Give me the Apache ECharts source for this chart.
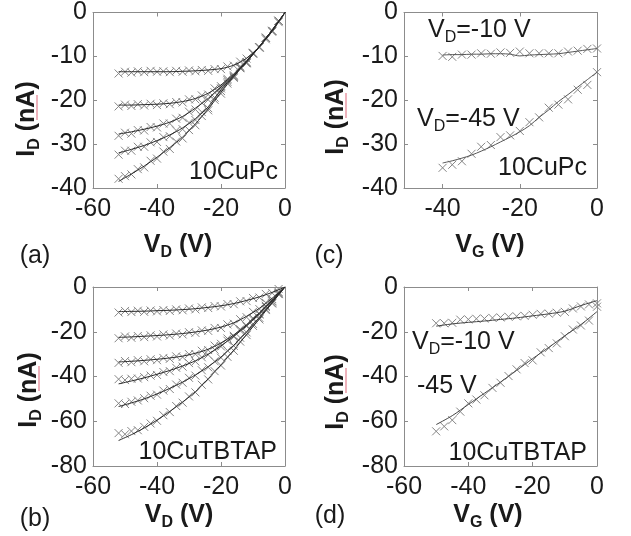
<!DOCTYPE html>
<html><head><meta charset="utf-8">
<script src="https://cdn.jsdelivr.net/npm/echarts@6/dist/echarts.min.js"></script>
<style>html,body{margin:0;padding:0;background:#fff}#c{width:631px;height:536px}</style>
</head><body><div id="c"></div><script>
// ---------- DATA ----------
// Panel (a): 10CuPc output curves, ID vs VD
const xA = [-52,-50,-48,-46,-44,-42,-40,-38,-36,-34,-32,-30,-28,-26,-24,-22,-20,-18,-16,-14,-12,-10,-8,-6,-4,-2,0];
const xAfit = [-52,-48,-44,-40,-36,-32,-28,-24,-20,-16,-12,-8,-4,0];
const a1 = [-13.9,-13.5,-13.7,-13.4,-13.6,-13.3,-13.5,-13.4,-13.6,-13.3,-13.5,-13.2,-13.4,-13.1,-13.3,-12.9,-12.9,-12.3,-12.1,-11.2,-10.5,-9.3,-7.9,-6.1,-4.4,-2.2,0.3];
const a2 = [-21.4,-21.0,-21.3,-20.9,-21.2,-20.8,-21.1,-20.7,-20.9,-20.4,-20.5,-19.8,-19.8,-18.9,-18.7,-17.3,-16.8,-15.1,-14.3,-12.3,-11.3,-9.2,-7.9,-5.8,-4.2,-1.9,0.2];
const a3 = [-28.1,-27.4,-27.6,-26.8,-26.9,-26.1,-26.2,-25.3,-25.3,-24.2,-24.0,-22.6,-22.1,-20.6,-19.9,-18.2,-17.3,-15.4,-14.5,-12.5,-11.4,-9.2,-7.9,-5.8,-4.2,-1.9,0.2];
const a4 = [-32.4,-31.5,-31.5,-30.6,-30.6,-29.6,-29.5,-28.4,-28.2,-26.9,-26.6,-25.1,-24.5,-22.7,-21.8,-19.4,-17.9,-15.8,-14.7,-12.6,-11.5,-9.3,-8.0,-5.8,-4.2,-1.9,0.2];
const a5 = [-37.9,-37.3,-36.9,-35.7,-35.3,-33.8,-33.3,-31.7,-31.1,-29.4,-28.7,-26.8,-25.7,-23.6,-22.3,-19.9,-18.5,-16.2,-14.9,-12.7,-11.6,-9.4,-8.0,-5.7,-4.2,-1.9,0.2];
const a1fit = [-13.5,-13.5,-13.5,-13.5,-13.5,-13.4,-13.3,-13.1,-12.8,-12.0,-10.4,-7.8,-4.3,0];
const a2fit = [-21.1,-21.1,-21.0,-20.9,-20.7,-20.3,-19.6,-18.4,-16.5,-14.0,-11.0,-7.7,-4.0,0];
const a3fit = [-27.7,-27.2,-26.6,-25.9,-25.0,-23.7,-21.8,-19.6,-17.0,-14.2,-11.1,-7.7,-4.0,0];
const a4fit = [-32.0,-31.2,-30.3,-29.2,-27.9,-26.3,-24.2,-21.5,-17.6,-14.4,-11.2,-7.8,-4.0,0];
const a5fit = [-38.5,-36.8,-35.0,-33.0,-30.8,-28.4,-25.4,-22.0,-18.2,-14.6,-11.3,-7.8,-4.0,0];

// Panel (b): 10CuTBTAP output curves
const xB = [-52,-50,-48,-46,-44,-42,-40,-38,-36,-34,-32,-30,-28,-26,-24,-22,-20,-18,-16,-14,-12,-10,-8,-6,-4,-2,0];
const xBfit = [-52,-48,-44,-40,-36,-32,-28,-24,-20,-16,-12,-8,-4,0];
const b1 = [-11.4,-10.7,-11.2,-10.6,-11.1,-10.5,-10.9,-10.3,-10.7,-10.0,-10.4,-9.6,-10.0,-9.1,-9.4,-8.5,-8.7,-7.6,-7.7,-6.4,-6.3,-4.9,-4.7,-3.1,-2.7,-0.9,0.3];
const b2 = [-22.9,-22.1,-22.7,-21.9,-22.4,-21.6,-22.1,-21.2,-21.7,-20.8,-21.2,-20.2,-20.5,-19.4,-19.6,-18.3,-18.3,-16.7,-16.4,-14.4,-13.5,-11.1,-9.9,-7.0,-5.4,-2.2,0.3];
const b3 = [-33.9,-33.1,-33.6,-32.7,-33.2,-32.3,-32.7,-31.7,-32.1,-31.0,-31.3,-30.0,-30.0,-28.5,-28.2,-26.2,-25.4,-23.0,-21.8,-18.9,-17.2,-13.9,-11.9,-8.4,-6.2,-2.6,0.3];
const b4 = [-41.2,-41.6,-41.0,-40.9,-40.3,-39.6,-39.3,-38.0,-37.6,-36.1,-35.6,-34.0,-33.3,-31.4,-30.3,-28.0,-26.6,-24.0,-22.3,-19.5,-17.6,-14.5,-12.3,-8.9,-6.5,-2.9,0.3];
const b5 = [-52.0,-52.3,-51.3,-50.7,-49.7,-48.6,-48.1,-46.3,-45.6,-43.6,-42.8,-40.6,-39.6,-37.2,-35.9,-33.2,-31.6,-28.4,-26.3,-22.7,-20.3,-16.5,-13.8,-9.9,-7.1,-3.1,0.3];
const b6 = [-65.3,-65.8,-64.4,-64.0,-62.5,-61.0,-59.8,-57.3,-55.9,-53.2,-51.7,-48.9,-47.1,-43.7,-41.3,-37.6,-35.1,-31.2,-28.5,-24.4,-21.5,-17.4,-14.5,-10.3,-7.4,-3.2,0.3];
const b1fit = [-11.0,-10.9,-10.8,-10.6,-10.4,-10.1,-9.7,-9.1,-8.4,-7.4,-6.0,-4.4,-2.4,0];
const b2fit = [-22.5,-22.3,-22.0,-21.7,-21.3,-20.8,-20.1,-19.2,-17.9,-16.0,-13.1,-9.5,-5.0,0];
const b3fit = [-33.5,-33.2,-32.8,-32.3,-31.7,-30.9,-29.6,-27.8,-25.0,-21.4,-16.8,-11.5,-5.8,0];
const b4fit = [-43.3,-42.0,-40.6,-39.0,-37.3,-35.3,-33.0,-30.0,-26.3,-22.0,-17.3,-12.0,-6.2,0];
const b5fit = [-53.4,-51.8,-50.0,-47.8,-45.3,-42.5,-39.3,-35.6,-31.3,-26.0,-20.0,-13.5,-6.8,0];
const b6fit = [-68.6,-66.0,-63.0,-59.5,-55.6,-51.4,-46.8,-41.0,-34.8,-28.2,-21.2,-14.2,-7.1,0];

// Panel (c): 10CuPc transfer curves, ID vs VG
const xC = [-40,-37.5,-35,-32.5,-30,-27.5,-25,-22.5,-20,-17.5,-15,-12.5,-10,-7.5,-5,-2.5,0];
const c10 = [-9.9,-10.1,-9.6,-9.6,-9.3,-9.4,-9.1,-9.2,-8.9,-9.3,-9.3,-9.3,-9.3,-8.9,-8.7,-8.3,-8.2];
const c45 = [-35.4,-34.7,-33.9,-32.2,-30.6,-30.2,-28.4,-28.0,-27.0,-25.0,-23.9,-21.7,-21.0,-19.8,-17.6,-16.5,-13.6];
const c10fit = [-9.7,-9.6,-9.6,-9.5,-9.5,-9.4,-9.4,-9.5,-9.9,-9.7,-9.6,-9.5,-9.4,-9.1,-8.8,-8.5,-8.2];
const c45fit = [-34.3,-33.8,-33.2,-32.5,-31.6,-30.6,-29.5,-28.4,-27.2,-25.8,-23.9,-22.2,-20.3,-18.7,-17.0,-15.3,-13.6];

// Panel (d): 10CuTBTAP transfer curves
const xD = [-50,-47.5,-45,-42.5,-40,-37.5,-35,-32.5,-30,-27.5,-25,-22.5,-20,-17.5,-15,-12.5,-10,-7.5,-5,-2.5,0];
const xDfit = [-50,-45,-40,-35,-30,-25,-20,-15,-10,-5,0];
const d10 = [-16.2,-16.2,-16.0,-14.6,-14.5,-14.2,-14.1,-13.8,-13.6,-13.3,-13.1,-12.9,-12.4,-12.0,-11.9,-11.5,-11.1,-9.6,-8.7,-7.8,-7.3];
const d45 = [-64.5,-62.3,-59.5,-55.7,-52.0,-50.3,-48.4,-45.1,-42.8,-39.8,-36.8,-34.0,-32.8,-29.2,-27.3,-25.2,-22.0,-19.0,-17.2,-15.0,-8.8];
const d10fit = [-17.5,-16.5,-15.8,-15.2,-14.5,-13.8,-12.9,-12.0,-10.8,-8.3,-6.1];
const d45fit = [-61.5,-57.5,-52.5,-47.5,-42.5,-37.3,-32.0,-27.0,-21.8,-16.8,-11.0];

// Tick values
const xTicksVD = [-60,-40,-20,0];
const xTicksC = [-40,-20,0];
const yTicks40 = [-40,-30,-20,-10,0];
const yTicks80 = [-80,-60,-40,-20,0];

// ---------- CHART ----------
const FONT = 'Liberation Sans, Arial, sans-serif';
const AXC = '#8c8c8c';
const MARK = '#858585';
const FITC = '#2a2a2a';
const zip = (xs, ys) => xs.map((x, i) => [x, ys[i]]);

const grids = [
  {left: 93, top: 9, width: 192, height: 179},   // a
  {left: 404, top: 9, width: 193, height: 179},  // c
  {left: 93, top: 287, width: 192, height: 179}, // b
  {left: 404, top: 287, width: 193, height: 179} // d
];

function xAxis(g, min, max, ticks, pos, labels) {
  return {
    type: 'value', gridIndex: g, min: min, max: max, position: pos,
    axisLine: {show: true, onZero: false, lineStyle: {color: AXC, width: 1}},
    axisTick: {show: true, inside: true, length: 4, customValues: ticks, lineStyle: {color: AXC}},
    axisLabel: {show: labels, customValues: ticks, color: '#1a1a1a', fontSize: 25, fontFamily: FONT, margin: 9},
    splitLine: {show: false}
  };
}
function yAxis(g, min, max, ticks, pos, labels) {
  return {
    type: 'value', gridIndex: g, min: min, max: max, position: pos,
    axisLine: {show: true, onZero: false, lineStyle: {color: AXC, width: 1}},
    axisTick: {show: true, inside: true, length: 4, customValues: ticks, lineStyle: {color: AXC}},
    axisLabel: {show: labels, customValues: ticks, color: '#1a1a1a', fontSize: 25, fontFamily: FONT, margin: 6},
    splitLine: {show: false}
  };
}

const xAxes = [
  xAxis(0, -60, 0, xTicksVD, 'bottom', true),
  xAxis(1, -50, 0, xTicksC, 'bottom', true),
  xAxis(2, -60, 0, xTicksVD, 'bottom', true),
  xAxis(3, -60, 0, xTicksVD, 'bottom', true),
  xAxis(0, -60, 0, xTicksVD, 'top', false),
  xAxis(1, -50, 0, xTicksC, 'top', false),
  xAxis(2, -60, 0, xTicksVD, 'top', false),
  xAxis(3, -60, 0, xTicksVD, 'top', false)
];
const yAxes = [
  yAxis(0, -40, 0, yTicks40, 'left', true),
  yAxis(1, -40, 0, yTicks40, 'left', true),
  yAxis(2, -80, 0, yTicks80, 'left', true),
  yAxis(3, -80, 0, yTicks80, 'left', true),
  yAxis(0, -40, 0, yTicks40, 'right', false),
  yAxis(1, -40, 0, yTicks40, 'right', false),
  yAxis(2, -80, 0, yTicks80, 'right', false),
  yAxis(3, -80, 0, yTicks80, 'right', false)
];

const CROSS = 'path://M0,0L10,10M10,0L0,10';
function marks(g, xs, ys) {
  return {type: 'scatter', xAxisIndex: g, yAxisIndex: g, data: zip(xs, ys),
    symbol: CROSS, symbolSize: 8, silent: true, animation: false,
    itemStyle: {color: 'rgba(0,0,0,0)', borderColor: MARK, borderWidth: 1, opacity: 1}};
}
function fit(g, xs, ys, col) {
  return {type: 'line', xAxisIndex: g, yAxisIndex: g, data: zip(xs, ys),
    showSymbol: false, smooth: 0.3, silent: true, animation: false,
    lineStyle: {color: col || FITC, width: 1}};
}

const series = [
  marks(0, xA, a1), marks(0, xA, a2), marks(0, xA, a3), marks(0, xA, a4), marks(0, xA, a5),
  fit(0, xAfit, a1fit), fit(0, xAfit, a2fit), fit(0, xAfit, a3fit), fit(0, xAfit, a4fit), fit(0, xAfit, a5fit),
  marks(1, xC, c10), marks(1, xC, c45),
  fit(1, xC, c10fit, '#555'), fit(1, xC, c45fit, '#555'),
  marks(2, xB, b1), marks(2, xB, b2), marks(2, xB, b3), marks(2, xB, b4), marks(2, xB, b5), marks(2, xB, b6),
  fit(2, xBfit, b1fit), fit(2, xBfit, b2fit), fit(2, xBfit, b3fit), fit(2, xBfit, b4fit), fit(2, xBfit, b5fit), fit(2, xBfit, b6fit),
  marks(3, xD, d10), marks(3, xD, d45),
  fit(3, xDfit, d10fit, '#444'), fit(3, xDfit, d45fit, '#444')
];

const TXT = '#1a1a1a';
const richN = {
  n: {fontSize: 25, fontFamily: FONT, fill: TXT, color: TXT},
  s: {fontSize: 16, fontFamily: FONT, fill: TXT, color: TXT, padding: [16, 0, 0, 0]}
};
const richB = {
  n: {fontSize: 25, fontWeight: 'bold', fontFamily: FONT, fill: TXT, color: TXT},
  s: {fontSize: 16, fontWeight: 'bold', fontFamily: FONT, fill: TXT, color: TXT, padding: [16, 0, 0, 0]}
};
function txt(x, y, text, rich, align, rot) {
  return {type: 'text', x: x, y: y, rotation: rot || 0, silent: true,
    style: {text: text, rich: rich, align: align || 'left', verticalAlign: 'middle',
      font: '25px ' + FONT, fill: TXT}};
}
function squiggle(x, y1, y2) {
  return {type: 'line', silent: true, shape: {x1: x, y1: y1, x2: x, y2: y2},
    style: {stroke: '#e89aa6', lineWidth: 1.5}};
}
const graphic = [
  // axis titles
  txt(178, 245, '{n|V}{s|D}{n| (V)}', richB, 'center'),
  txt(490, 245, '{n|V}{s|G}{n| (V)}', richB, 'center'),
  txt(179, 515, '{n|V}{s|D}{n| (V)}', richB, 'center'),
  txt(488, 515, '{n|V}{s|G}{n| (V)}', richB, 'center'),
  txt(27, 119, '{n|I}{s|D}{n| (nA)}', richB, 'center', Math.PI / 2),
  txt(336, 117, '{n|I}{s|D}{n| (nA)}', richB, 'center', Math.PI / 2),
  txt(29, 390, '{n|I}{s|D}{n| (nA)}', richB, 'center', Math.PI / 2),
  txt(336, 392, '{n|I}{s|D}{n| (nA)}', richB, 'center', Math.PI / 2),
  // spell-check marks under "nA"
  squiggle(37, 95, 120),
  squiggle(346, 93, 118),
  squiggle(39, 366, 391),
  squiggle(346, 368, 393),
  // panel letters
  txt(35, 256, '{n|(a)}', richN, 'center'),
  txt(329, 256, '{n|(c)}', richN, 'center'),
  txt(35, 519, '{n|(b)}', richN, 'center'),
  txt(330, 516, '{n|(d)}', richN, 'center'),
  // annotations
  txt(278, 172, '{n|10CuPc}', richN, 'right'),
  txt(587, 168, '{n|10CuPc}', richN, 'right'),
  txt(277, 452, '{n|10CuTBTAP}', richN, 'right'),
  txt(587, 453, '{n|10CuTBTAP}', richN, 'right'),
  txt(428, 30, '{n|V}{s|D}{n|=-10 V}', richN, 'left'),
  txt(417, 119, '{n|V}{s|D}{n|=-45 V}', richN, 'left'),
  txt(412, 342, '{n|V}{s|D}{n|=-10 V}', richN, 'left'),
  txt(417, 386, '{n|-45 V}', richN, 'left')
];

const chart = echarts.init(document.getElementById('c'), null, {renderer: 'canvas'});
chart.setOption({
  animation: false,
  backgroundColor: '#fff',
  grid: grids,
  xAxis: xAxes,
  yAxis: yAxes,
  series: series,
  graphic: graphic
});
</script></body></html>
